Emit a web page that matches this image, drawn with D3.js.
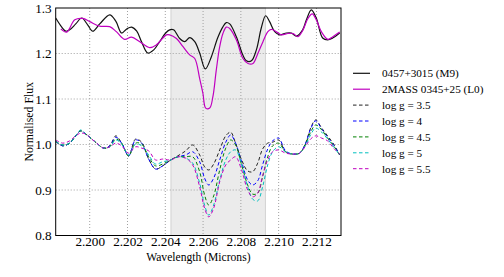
<!DOCTYPE html>
<html>
<head>
<meta charset="utf-8">
<script src="https://cdn.jsdelivr.net/npm/d3@7"></script>
<style>
  html, body { margin: 0; padding: 0; background: #fff; }
  svg text { font-family: "Liberation Serif", "Times New Roman", "Tinos", serif; }
</style>
</head>
<body>
<div id="chart"></div>
<script>
// observed spectra
const obsBlackWave = [2.1982, 2.19852, 2.19873, 2.19894, 2.19926, 2.19958, 2.19989, 2.20016, 2.20053, 2.20106, 2.20138, 2.20169, 2.20196, 2.20222, 2.20249, 2.20275, 2.20307, 2.20339, 2.20370, 2.20402, 2.20423, 2.20444, 2.20476, 2.20503, 2.20529, 2.20556, 2.20582, 2.20612, 2.20644, 2.20677, 2.20704, 2.20723, 2.20741, 2.20776, 2.20810, 2.20829, 2.20856, 2.20882, 2.20908, 2.20931, 2.20952, 2.20979, 2.21005, 2.21041, 2.21067, 2.21094, 2.21127, 2.21147, 2.21173, 2.21199, 2.21233, 2.21259, 2.21286, 2.21323];
const obsBlackFlux = [1.278, 1.258, 1.249, 1.252, 1.265, 1.278, 1.263, 1.249, 1.265, 1.285, 1.271, 1.245, 1.254, 1.258, 1.249, 1.225, 1.201, 1.208, 1.226, 1.245, 1.252, 1.252, 1.233, 1.226, 1.235, 1.226, 1.201, 1.166, 1.193, 1.234, 1.258, 1.268, 1.265, 1.237, 1.197, 1.184, 1.184, 1.208, 1.256, 1.283, 1.270, 1.248, 1.241, 1.245, 1.245, 1.238, 1.252, 1.274, 1.296, 1.278, 1.234, 1.230, 1.234, 1.245];

const obsMagWave = [2.19847, 2.19878, 2.19921, 2.19963, 2.2000, 2.20053, 2.20106, 2.20141, 2.20185, 2.20221, 2.20265, 2.20317, 2.20353, 2.20406, 2.20423, 2.20459, 2.20494, 2.20529, 2.20556, 2.20582, 2.20599, 2.20614, 2.20635, 2.20652, 2.20670, 2.20688, 2.20705, 2.20723, 2.20741, 2.20776, 2.20811, 2.20838, 2.20864, 2.20890, 2.20917, 2.20943, 2.20961, 2.20988, 2.21014, 2.21049, 2.21076, 2.21102, 2.21129, 2.21155, 2.21178, 2.21199, 2.21226, 2.21261, 2.21287, 2.21323];
const obsMagFlux = [1.254, 1.247, 1.274, 1.277, 1.270, 1.260, 1.259, 1.248, 1.231, 1.236, 1.226, 1.213, 1.219, 1.241, 1.241, 1.233, 1.215, 1.197, 1.189, 1.145, 1.113, 1.080, 1.080, 1.105, 1.164, 1.215, 1.244, 1.258, 1.255, 1.230, 1.189, 1.178, 1.178, 1.200, 1.226, 1.248, 1.253, 1.248, 1.241, 1.244, 1.244, 1.237, 1.252, 1.277, 1.287, 1.274, 1.248, 1.231, 1.237, 1.247];

// model spectra, shared wavelength grid
const modelWave = [2.19820, 2.19857, 2.19894, 2.19926, 2.19952, 2.19979, 2.20005, 2.20037, 2.20074, 2.20106, 2.20138, 2.20169, 2.20206, 2.20243, 2.20275, 2.20312, 2.20349, 2.20386, 2.20429, 2.20466, 2.20508, 2.20545, 2.20582, 2.20608, 2.20630, 2.20656, 2.20688, 2.20720, 2.20746, 2.20772, 2.20804, 2.20836, 2.20862, 2.20889, 2.20915, 2.20942, 2.20968, 2.21000, 2.21037, 2.21074, 2.21111, 2.21143, 2.21169, 2.21196, 2.21228, 2.21259, 2.21291, 2.21323];
const logg35 = [1.007, 0.997, 1.003, 1.019, 1.030, 1.023, 1.014, 1.003, 0.992, 0.997, 1.019, 1.003, 0.975, 1.012, 1.005, 0.968, 0.946, 0.953, 0.966, 0.975, 0.986, 0.999, 0.977, 0.951, 0.944, 0.957, 0.988, 1.019, 1.027, 1.003, 0.966, 0.942, 0.940, 0.959, 0.990, 1.003, 1.005, 1.010, 0.984, 0.979, 0.981, 1.003, 1.036, 1.054, 1.036, 1.019, 1.001, 0.977];
const logg40 = [1.007, 0.997, 1.003, 1.019, 1.030, 1.023, 1.014, 1.003, 0.992, 0.997, 1.016, 1.003, 0.975, 1.010, 1.003, 0.968, 0.946, 0.953, 0.966, 0.973, 0.977, 0.984, 0.962, 0.926, 0.911, 0.926, 0.966, 1.005, 1.021, 1.003, 0.962, 0.922, 0.911, 0.920, 0.955, 0.990, 1.008, 1.014, 0.986, 0.979, 0.981, 1.003, 1.034, 1.052, 1.034, 1.016, 0.999, 0.977];
const logg45 = [1.007, 0.999, 1.003, 1.019, 1.030, 1.023, 1.014, 1.003, 0.992, 0.995, 1.012, 1.003, 0.975, 1.003, 1.001, 0.973, 0.953, 0.957, 0.966, 0.973, 0.973, 0.973, 0.940, 0.889, 0.867, 0.887, 0.944, 0.992, 1.010, 0.999, 0.955, 0.911, 0.891, 0.893, 0.929, 0.973, 0.997, 1.003, 0.984, 0.979, 0.981, 1.001, 1.027, 1.043, 1.032, 1.014, 0.997, 0.977];
const logg50 = [1.007, 0.999, 1.003, 1.019, 1.032, 1.023, 1.014, 1.003, 0.992, 0.995, 1.010, 1.001, 0.977, 1.001, 0.997, 0.977, 0.957, 0.962, 0.966, 0.973, 0.970, 0.959, 0.915, 0.867, 0.845, 0.867, 0.922, 0.966, 0.984, 0.988, 0.955, 0.907, 0.880, 0.876, 0.907, 0.955, 0.984, 0.995, 0.984, 0.979, 0.981, 0.999, 1.021, 1.036, 1.027, 1.012, 0.995, 0.977];
const logg55 = [1.010, 1.003, 1.008, 1.019, 1.025, 1.023, 1.014, 1.003, 0.992, 0.995, 1.003, 0.997, 0.981, 0.995, 0.992, 0.986, 0.966, 0.968, 0.966, 0.973, 0.970, 0.955, 0.907, 0.860, 0.841, 0.860, 0.918, 0.955, 0.966, 0.973, 0.944, 0.900, 0.885, 0.893, 0.931, 0.966, 0.984, 0.988, 0.981, 0.979, 0.981, 0.997, 1.012, 1.019, 1.014, 1.008, 0.992, 0.979];

const legendLabels = ["0457+3015 (M9)", "2MASS 0345+25 (L0)", "log g = 3.5", "log g = 4", "log g = 4.5", "log g = 5", "log g = 5.5"];
const xTicks = [2.200, 2.202, 2.204, 2.206, 2.208, 2.210, 2.212];
const yTicks = [0.8, 0.9, 1.0, 1.1, 1.2, 1.3];
const shadeRange = [2.2043, 2.2093];

const serif = '"Liberation Serif", "Times New Roman", Tinos, serif';
const width = 504, height = 277;
const margin = { top: 8, right: 163, bottom: 41.5, left: 55.7 };

const svg = d3.select("#chart").append("svg")
  .attr("width", width)
  .attr("height", height);

const x = d3.scaleLinear()
  .domain([2.1982, 2.2133])
  .range([margin.left, width - margin.right]);
const y = d3.scaleLinear()
  .domain([0.8, 1.3])
  .range([height - margin.bottom, margin.top]);

// shaded band
svg.append("rect")
  .attr("x", x(shadeRange[0]))
  .attr("y", y(1.3))
  .attr("width", x(shadeRange[1]) - x(shadeRange[0]))
  .attr("height", y(0.8) - y(1.3))
  .attr("fill", "#ebebeb")
  .attr("stroke", "#d2d2d2")
  .attr("stroke-width", 1);

// grid
svg.append("g")
  .selectAll("line")
  .data(xTicks)
  .join("line")
  .attr("x1", d => x(d)).attr("x2", d => x(d))
  .attr("y1", y(1.3)).attr("y2", y(0.8))
  .attr("stroke", "#a0a0a0")
  .attr("stroke-dasharray", "1,2");
svg.append("g")
  .selectAll("line")
  .data(yTicks.slice(1, -1))
  .join("line")
  .attr("x1", x.range()[0]).attr("x2", x.range()[1])
  .attr("y1", d => y(d)).attr("y2", d => y(d))
  .attr("stroke", "#a0a0a0")
  .attr("stroke-dasharray", "1,2");

const line = d3.line()
  .x(d => x(d[0]))
  .y(d => y(d[1]))
  .curve(d3.curveCatmullRom.alpha(0.5));

const series = [
  { wave: obsBlackWave, flux: obsBlackFlux, color: "#111111", dash: null, w: 1.2 },
  { wave: obsMagWave, flux: obsMagFlux, color: "#c000c0", dash: null, w: 1.2 },
  { wave: modelWave, flux: logg35, color: "#222222", dash: "3.5,2.5", w: 1 },
  { wave: modelWave, flux: logg40, color: "#0000ff", dash: "3.5,2.5", w: 1 },
  { wave: modelWave, flux: logg45, color: "#008000", dash: "3.5,2.5", w: 1 },
  { wave: modelWave, flux: logg50, color: "#00bfbf", dash: "3.5,2.5", w: 1 },
  { wave: modelWave, flux: logg55, color: "#bf00bf", dash: "3.5,2.5", w: 1 }
];

svg.append("clipPath").attr("id", "clip")
  .append("rect")
  .attr("x", x.range()[0]).attr("y", y(1.3))
  .attr("width", x.range()[1] - x.range()[0])
  .attr("height", y(0.8) - y(1.3));

series.forEach(s => {
  svg.append("path")
    .datum(d3.zip(s.wave, s.flux))
    .attr("clip-path", "url(#clip)")
    .attr("fill", "none")
    .attr("stroke", s.color)
    .attr("stroke-width", s.w)
    .attr("stroke-dasharray", s.dash)
    .attr("d", line);
});

// axes
const xAxis = svg.append("g")
  .attr("transform", `translate(0,${y(0.8)})`)
  .call(d3.axisBottom(x).tickValues(xTicks).tickFormat(d3.format(".3f")).tickSize(0).tickPadding(1.5));
const yAxis = svg.append("g")
  .attr("transform", `translate(${x.range()[0]},0)`)
  .call(d3.axisLeft(y).tickValues(yTicks).tickFormat(d3.format(".1f")).tickSize(0).tickPadding(4));
[xAxis, yAxis].forEach(a => {
  a.select(".domain").remove();
  a.selectAll("text")
    .attr("fill", "#000")
    .style("font-family", serif)
    .style("font-size", "13.2px");
});

// frame
svg.append("rect")
  .attr("x", x.range()[0]).attr("y", y(1.3))
  .attr("width", x.range()[1] - x.range()[0])
  .attr("height", y(0.8) - y(1.3))
  .attr("fill", "none")
  .attr("stroke", "#000")
  .attr("stroke-width", 1);

svg.append("text")
  .attr("x", (x.range()[0] + x.range()[1]) / 2)
  .attr("y", 261)
  .attr("text-anchor", "middle")
  .style("font-family", serif)
  .style("font-size", "11.6px")
  .text("Wavelength (Microns)");
svg.append("text")
  .attr("transform", `translate(33,${(y(0.8) + y(1.3)) / 2}) rotate(-90)`)
  .attr("text-anchor", "middle")
  .style("font-family", serif)
  .style("font-size", "11.8px")
  .text("Normalised Flux");

// legend
const legend = svg.append("g").attr("transform", "translate(353,73.3)");
legendLabels.forEach((lab, i) => {
  const s = series[i];
  const g = legend.append("g").attr("transform", `translate(0,${i * 15.9})`);
  g.append("line")
    .attr("x1", 0).attr("x2", 17)
    .attr("stroke", s.color)
    .attr("stroke-width", s.w)
    .attr("stroke-dasharray", s.dash);
  g.append("text")
    .attr("x", 29)
    .attr("y", 4)
    .style("font-family", serif)
    .style("font-size", "11.2px")
    .text(lab);
});
</script>
</body>
</html>
